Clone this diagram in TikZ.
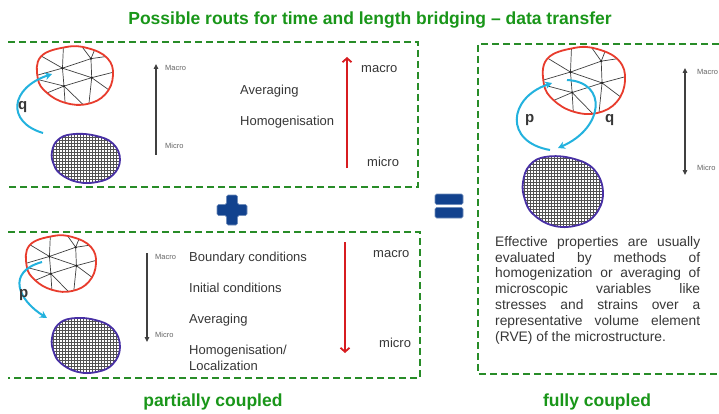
\documentclass[tikz,border=0pt]{standalone}
\usepackage{fontspec}
\setmainfont{Liberation Sans}
\usetikzlibrary{arrows.meta}

\definecolor{boxgreen}{RGB}{40,140,40}
\definecolor{titlegreen}{RGB}{25,150,25}
\definecolor{meshred}{RGB}{232,60,45}
\definecolor{gridpurple}{RGB}{72,48,165}
\definecolor{flowcyan}{RGB}{35,178,222}
\definecolor{scalered}{RGB}{215,28,32}
\definecolor{opblue}{RGB}{18,66,142}
\definecolor{textgray}{RGB}{55,55,55}

% outlines of the two material blobs, in unit coordinates (y pointing down)
\newcommand\meshoutline{plot[smooth cycle,tension=0.7] coordinates {(-0.9,-0.69) (-0.25,-1.03) (0.32,-1) (0.85,-0.64) (1.0,-0.02) (0.8,0.65) (0.32,1.0) (-0.25,0.96) (-0.74,0.6) (-0.98,0.08)}}
\newcommand\gridoutline{plot[smooth cycle,tension=0.7] coordinates {(-1,-0.25) (-0.83,-0.72) (-0.42,-0.95) (0.25,-0.9) (0.79,-0.58) (1,0.07) (0.79,0.68) (0.33,0.96) (-0.25,0.96) (-0.75,0.64) (-0.96,0.21)}}

\tikzset{
  dashbox/.style={draw=boxgreen, line width=2.4pt, dash pattern=on 7pt off 4pt},
  headline/.style={text=titlegreen, font=\bfseries\fontsize{17.5}{20}\selectfont, inner sep=0pt},
  body/.style={text=textgray, font=\fontsize{13}{15}\selectfont, inner sep=0pt},
  minilabel/.style={text=black!60, font=\fontsize{7.5}{9}\selectfont, inner sep=0pt},
  flowlabel/.style={text=textgray, font=\bfseries\fontsize{15}{17}\selectfont, inner sep=0pt},
  flow/.style={draw=flowcyan, line width=2pt, -{Stealth[length=7pt,width=7.5pt]}},
  scalearrow/.style={draw=black!75, line width=1.1pt, -{Triangle[length=5pt,width=4.5pt]}},
  scaleboth/.style={draw=black!75, line width=1.1pt, {Triangle[length=5pt,width=4.5pt]}-{Triangle[length=5pt,width=4.5pt]}},
  levelarrow/.style={draw=scalered, line width=1.8pt, -{Straight Barb[length=4pt,width=9pt]}},
  meshline/.style={draw=black!75, line width=0.7pt},
  gridline/.style={draw=black!68, line width=0.42pt},
  meshrim/.style={draw=meshred, line width=1.8pt},
  gridrim/.style={draw=gridpurple, line width=1.8pt},
  opsign/.style={fill=opblue, draw=opblue!60!white, line width=0.6pt, rounded corners=1.5pt},
  % coarse triangulated (macro) blob: half width, half height
  pics/meshblob/.style 2 args={code={
    \begin{scope}[xscale=#1,yscale=#2]
      \fill[white] \meshoutline;
      \begin{scope}
        \clip \meshoutline;
        % interior vertices
        \coordinate (-i1) at (-0.33,-0.28);
        \coordinate (-i2) at (-0.29,0.36);
        \coordinate (-i3) at (0.44,0.06);
        \coordinate (-i4) at (0.42,-0.62);
        % rays to the rim
        \foreach \a/\b in {i1/{-1,-0.8}, i1/{-0.3,-1.2}, i1/{-1.2,0.05}, i4/{0.1,-1.2},
                           i4/{0.6,-1.2}, i4/{1.1,-0.75}, i3/{1.2,-0.2}, i3/{1.1,0.7},
                           i3/{0.35,1.2}, i2/{0.35,1.2}, i2/{-0.25,1.2}, i2/{-1,0.75},
                           i2/{-1.2,0.05}}
          \draw[meshline] (-\a) -- (\b);
        % inner triangles
        \draw[meshline] (-i1) -- (-i2) -- (-i3) -- cycle;
        \draw[meshline] (-i1) -- (-i4) -- (-i3);
      \end{scope}
      \foreach \v in {i1,i2,i3,i4}
        \fill[black!85] (-\v) circle [x radius={1.3/#1}, y radius={1.3/#2}];
      \draw[meshrim] \meshoutline;
    \end{scope}}},
  % fine square-grid (micro) blob: half width, half height
  pics/gridblob/.style 2 args={code={
    \begin{scope}[xscale=#1,yscale=#2]
      \fill[white] \gridoutline;
      \begin{scope}
        \clip \gridoutline;
        \foreach \k in {-15,...,15}{
          \draw[gridline] ({\k*3/#1},-1.2) -- ({\k*3/#1},1.2);
          \draw[gridline] (-1.2,{\k*3/#2}) -- (1.2,{\k*3/#2});
        }
      \end{scope}
      \draw[gridrim] \gridoutline;
    \end{scope}}},
}

\begin{document}
\begin{tikzpicture}[x=1pt,y=-1pt]
\useasboundingbox (0,0) rectangle (719,414);
\clip (0,0) rectangle (719,414);
\fill[white] (0,0) rectangle (719,414);

% heading
\node[headline, anchor=base] (title) at (370,25) {Possible routs for time and length bridging – data transfer};

% dashed frames
\draw[dashbox] (8,42) -- (418,42) -- (418,187) -- (8,187);
\draw[dashbox] (8,232) -- (420,232) -- (420,378) -- (8,378);
\draw[dashbox] (730,44) -- (478,44) -- (478,374) -- (730,374);

% ---------- upward transfer (q) ----------
\pic (upmacro) at (75,76) {meshblob={38}{28}};
\pic (upmicro) at (86,158) {gridblob={34}{25}};
\coordinate (qAfrom) at (43,133);
\coordinate (qAto) at (52,74);
\draw[flow] (qAfrom) .. controls (6,122) and (10,88) .. (qAto);
\node[flowlabel, anchor=base west] (qA) at (18,110) {q};

\coordinate (upB) at (156,155);
\coordinate (upT) at (156,64);
\draw[scalearrow] (upB) -- (upT);
\node[minilabel, anchor=base west] (upMac) at (165,71) {Macro};
\node[minilabel, anchor=base west] (upMic) at (165,149) {Micro};

\node[body, anchor=base west] (upAvg) at (240,95) {Averaging};
\node[body, anchor=base west] (upHom) at (240,126) {Homogenisation};

\coordinate (redUpB) at (347,168);
\coordinate (redUpT) at (347,57);
\draw[levelarrow] (redUpB) -- (redUpT);
\node[body, anchor=base west] (upmac) at (361,73) {macro};
\node[body, anchor=base west] (upmic) at (367,166) {micro};

% ---------- plus and equals ----------
\fill[opsign] (226.5,195) -- (237.5,195) -- (237.5,204.5) -- (247,204.5) -- (247,215.5) -- (237.5,215.5) -- (237.5,225) -- (226.5,225) -- (226.5,215.5) -- (217,215.5) -- (217,204.5) -- (226.5,204.5) -- cycle;
\fill[opsign] (435,194) rectangle (463,204.5);
\fill[opsign] (435,207.5) rectangle (463,218);

% ---------- downward transfer (p) ----------
\pic (dnmacro) at (61,264) {meshblob={35}{27}};
\pic (dnmicro) at (86,345) {gridblob={34}{28}};
\coordinate (pBfrom) at (42,262);
\coordinate (pBto) at (47,318);
\draw[flow] (pBfrom) .. controls (6,272) and (18,300) .. (pBto);
\node[flowlabel, anchor=base west] (pB) at (19,297) {p};

\coordinate (dnT) at (147,253);
\coordinate (dnB) at (147,342);
\draw[scalearrow] (dnT) -- (dnB);
\node[minilabel, anchor=base west] (dnMac) at (155,259) {Macro};
\node[minilabel, anchor=base west] (dnMic) at (155,337) {Micro};

\node[body, anchor=base west] (dnBC) at (189,261) {Boundary conditions};
\node[body, anchor=base west] (dnIC) at (189,292) {Initial conditions};
\node[body, anchor=base west] (dnAvg) at (189,323) {Averaging};
\node[body, anchor=base west] (dnHom) at (189,354) {Homogenisation/};
\node[body, anchor=base west] (dnLoc) at (189,370) {Localization};

\coordinate (redDnT) at (345,242);
\coordinate (redDnB) at (345,353);
\draw[levelarrow] (redDnT) -- (redDnB);
\node[body, anchor=base west] (dnmac) at (373,257) {macro};
\node[body, anchor=base west] (dnmic) at (379,347) {micro};

% ---------- fully coupled ----------
\pic (fcmacro) at (584,81) {meshblob={41}{32}};
\pic (fcmicro) at (563,191) {gridblob={40}{36}};
\coordinate (pCfrom) at (550,150);
\coordinate (pCto) at (552,83);
\draw[flow] (pCfrom) .. controls (504,142) and (508,98) .. (pCto);
\node[flowlabel, anchor=base west] (pC) at (525,123) {p};
\coordinate (qCfrom) at (567,80);
\coordinate (qCto) at (558,148);
\draw[flow] (qCfrom) .. controls (608,82) and (604,128) .. (qCto);
\node[flowlabel, anchor=base west] (qC) at (605,123) {q};

\coordinate (fcT) at (685,68);
\coordinate (fcB) at (685,175);
\draw[scaleboth] (fcT) -- (fcB);
\node[minilabel, anchor=base west] (fcMac) at (697,75) {Macro};
\node[minilabel, anchor=base west] (fcMic) at (697,170) {Micro};

\node[body, anchor=north west, text width=205pt, align=justify,
      font=\fontsize{13.8}{15.8}\selectfont] (rve) at (495,236)
  {\tolerance=9999\hbadness=10000 Effective properties are usually\linebreak
   evaluated by methods of\linebreak
   homogenization or averaging of\linebreak
   microscopic variables like\linebreak
   stresses and strains over a\linebreak
   representative volume element\linebreak
   (RVE) of the microstructure.};

% captions
\node[headline, anchor=base] (partial) at (213,406) {partially coupled};
\node[headline, anchor=base] (full) at (597,406) {fully coupled};
\end{tikzpicture}
\end{document}
